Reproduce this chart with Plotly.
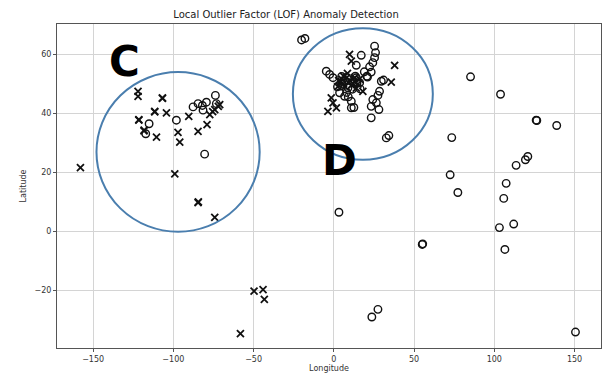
import plotly.graph_objects as go

# Inliers (open circles)
inlier_lon = [85.2, 103.9, 126.1, 126.5, 138.9, 73.5, 120.9, 119.4, 113.6, 72.5, 107.4, 77.3,
              105.9, 112.1, 103.2, 106.6, 55.1, 55.4, 150.6, 3.2, 27.5, 23.7,
              -98.1, -115.1, -117.2, -87.7, -84.6, -79.4, -73.8, -81.5, -80.5, -73.2, -81.9,
              -20.1, -18.0, 25.4, 26.0, 25.4, 17.1, 24.3, 22.3, 23.3, 20.6, -4.7, -2.6, -0.5,
              14.0, 29.6, 31.0, 28.5, 27.5, 24.3, 26.5, 28.1, 23.3, 23.3, 10.9, 6.7, 3.6, 8.8,
              10.9, 32.7, 34.3, 16.1, 14.0, 19.0, 12.0, 2.3, 4.9, 13.4, 9.0, 11.6, 16.4, 21.0,
              14.4, 7.0, 5.0, 8.0, 12.5]
inlier_lat = [52.3, 46.4, 37.6, 37.5, 35.8, 31.7, 25.3, 24.2, 22.3, 19.1, 16.2, 13.1,
              11.1, 2.4, 1.2, -6.2, -4.5, -4.3, -34.2, 6.4, -26.5, -29.1,
              37.6, 36.4, 33.0, 42.1, 43.2, 43.7, 46.0, 41.0, 26.1, 43.2, 42.6,
              64.8, 65.3, 62.7, 60.5, 58.8, 59.6, 57.1, 55.7, 53.9, 52.5, 54.2, 53.1, 52.0,
              56.2, 50.8, 51.2, 47.4, 46.0, 44.6, 43.5, 41.2, 42.3, 38.4, 44.0, 45.7, 46.9, 48.6,
              41.8, 31.6, 32.4, 50.3, 52.0, 54.0, 51.0, 48.9, 52.4, 52.5, 45.5, 48.1, 48.2, 52.2,
              50.1, 51.0, 50.0, 47.0, 41.9]

# Outliers (x markers)
outlier_lon = [-122.0, -122.0, -106.8, -106.8, -111.6, -111.6, -104.3, -121.5, -121.5, -118.2,
               -118.3, -110.5, -97.1, -96.0, -90.4, -84.6, -79.0, -77.3, -75.5, -74.2, -71.1,
               -72.0, -99.1, -84.6, -84.4, -74.2, -157.9,
               -49.7, -44.1, -43.3, -58.2,
               9.8, 10.9, 37.9, 35.8, -1.6, -0.5, 1.6, -3.7, 18.1,
               4.0, 5.0, 6.0, 7.0, 8.0, 9.0, 10.0, 11.0, 12.0, 13.0, 14.0, 15.0, 6.0, 3.0,
               16.0, 2.5, 8.5]
outlier_lat = [47.4, 45.7, 45.0, 45.2, 40.4, 40.6, 40.1, 37.6, 37.8, 34.2,
               34.0, 31.9, 33.5, 30.2, 38.9, 33.8, 36.1, 39.5, 40.5, 41.2, 42.9,
               42.3, 19.4, 9.7, 9.9, 4.7, 21.5,
               -20.3, -19.8, -23.1, -34.7,
               59.9, 57.6, 56.2, 50.5, 45.2, 43.5, 41.8, 40.6, 47.4,
               50.5, 51.5, 50.0, 49.0, 52.0, 50.5, 51.0, 49.5, 50.0, 52.0, 48.5, 49.8, 52.5, 51.0,
               51.5, 49.0, 53.5]

x_ticks = [-150, -100, -50, 0, 50, 100, 150]
y_ticks = [-20, 0, 20, 40, 60]

def lab(v):
    return str(v).replace("-", "\u2212")

fig = go.Figure()
fig.add_trace(go.Scatter(
    x=inlier_lon, y=inlier_lat, mode="markers", name="Inliers",
    marker=dict(symbol="circle-open", size=7.5, color="#111", line=dict(width=1.4, color="#111")),
))
fig.add_trace(go.Scatter(
    x=outlier_lon, y=outlier_lat, mode="markers", name="Outliers",
    marker=dict(symbol="x-thin", size=7, color="#111", line=dict(width=1.8, color="#111")),
))

circ_color = "#4a7eae"
fig.add_shape(type="circle", xref="x", yref="y", x0=-147.9, x1=-46.2, y0=-0.2, y1=53.9,
              line=dict(color=circ_color, width=2))
fig.add_shape(type="circle", xref="x", yref="y", x0=-25.5, x1=61.7, y0=24.2, y1=68.8,
              line=dict(color=circ_color, width=2))

fig.add_annotation(x=-130.3, y=57.5, xref="x", yref="y", text="<b>C</b>", showarrow=False,
                   font=dict(family="DejaVu Sans", size=42, color="black"))
fig.add_annotation(x=3.6, y=24.0, xref="x", yref="y", text="<b>D</b>", showarrow=False,
                   font=dict(family="DejaVu Sans", size=42, color="black"))

axis_common = dict(showline=True, mirror=True, linecolor="#555", linewidth=1,
                   showgrid=True, gridcolor="#d4d4d4", gridwidth=1, zeroline=False,
                   ticks="outside", ticklen=3, tickcolor="#555",
                   tickfont=dict(family="DejaVu Sans", size=8, color="#333"))

fig.update_layout(
    width=606, height=379,
    margin=dict(l=57, r=5, t=24, b=31),
    paper_bgcolor="white", plot_bgcolor="white",
    showlegend=False,
    title=dict(text="Local Outlier Factor (LOF) Anomaly Detection", x=0.472, xanchor="center",
               y=0.963, yanchor="middle", yref="container",
               font=dict(family="DejaVu Sans", size=10, color="#222")),
    xaxis=dict(range=[-172.5, 166.5], tickvals=x_ticks, ticktext=[lab(v) for v in x_ticks],
               title=dict(text="Longitude", standoff=2,
                          font=dict(family="DejaVu Sans", size=8, color="#333")),
               **axis_common),
    yaxis=dict(range=[-39.6, 70.2], tickvals=y_ticks, ticktext=[lab(v) for v in y_ticks],
               title=dict(text="Latitude", standoff=6,
                          font=dict(family="DejaVu Sans", size=8, color="#333")),
               **axis_common),
)

fig.write_html("out.html", config={"displayModeBar": False},
               post_script="document.body.style.margin='0';document.body.style.overflow='hidden';")
